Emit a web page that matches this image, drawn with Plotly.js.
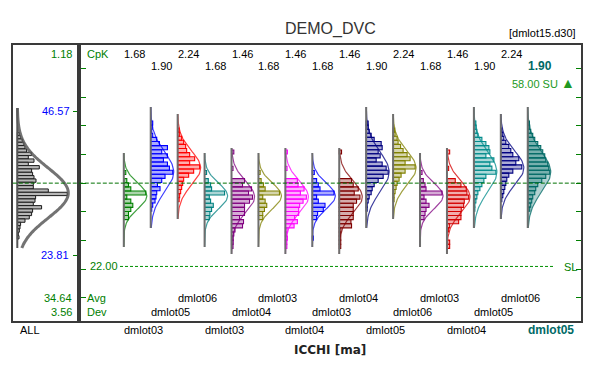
<!DOCTYPE html>
<html><head><meta charset="utf-8">
<script src="https://cdn.plot.ly/plotly-3.0.1.min.js"></script>
<style>html,body{margin:0;padding:0;background:#fff}#chart{width:599px;height:370px}</style>
</head><body><div id="chart"></div>
<script>
// ---------------- data ----------------
const lots = ['dmlot03','dmlot05','dmlot06','dmlot03','dmlot04','dmlot03','dmlot04','dmlot03',
              'dmlot04','dmlot05','dmlot06','dmlot03','dmlot04','dmlot05','dmlot06','dmlot05'];
const cpk = ['1.68','1.90','2.24','1.68','1.46','1.68','1.46','1.68',
             '1.46','1.90','2.24','1.68','1.46','1.90','2.24','1.90'];
// top edge (value) of the highest bin of each lot histogram
const histTop = [37.17,44.99,43.88,37.17,40.41,37.17,40.41,37.17,40.41,44.99,43.88,37.17,40.41,44.99,43.88,44.99];
const binSize = 0.648;
// bin frequencies, from the top bin downwards
const h00 = [2,0,3,4.7,7,22,3,7,9,7,4.7,4.7];
const h01 = [2,1.5,1,2,6,8.7,16.7,11,16.7,12.7,16.7,18.7,22,14.3,11,6.7,9.3,6,5.3,4.3,2,1];
const h02 = [1.5,2,4,6,8,9,12,17,12,22,16,11,6,5,4,3,2,1.5];
const h03 = [2,0,3.7,6,7,20,4.7,6,8.7,7,5.3,4.7];
const h04 = [2.3,0,0,0,1.5,0,0,13,11,20,17,21,18,13,13,13,8,12,11,3.5,2.3,1.7,1.7,1.5];
const h05 = [1.7,0,2.7,5,6.7,21,4.3,6.7,8.3,6,4.3,4.3];
const h06 = [2,0,0,0,1.7,0,0,12,12.7,18.7,15,21,17.7,14.3,13.3,13.3,9.3,12,8.7,1.7,1.3,2,1.5,1.5];
const h07 = [2,0,4.3,6,7.7,21.7,4.3,6,12.7,11,5.3,4.3,0,0,0,0,1];
const h08 = [2.3,0,0,0,0,0,0,12.3,14,19,15,20.7,17.3,14,14,14,14,11.7,12.3,1.7,1.3,1.5,1.5,1.5];
const h09 = [2,2,3,5,8,15,16,12,14,10,16,20,22,17,12,8,6,5,3,2,1,1];
const h10 = [1.5,2,4,5,7.5,10,14,17,12,22,12,8,6,4,3,2,1,1];
const h11 = [2,0,3.3,5,6,22,4,6,9,6,5,4];
const h12 = [2.7,0,0,0,1.7,0,0,8.3,14,19.3,20,21.7,17.3,16.7,14.3,14,14,11.7,2.7,1.7,0,0,2.7,2.7];
const h13 = [2,2.3,3,4,8,12,15,16,12,20,16,18,22,12,10,8,6,4,3,2,1,1];
const h14 = [1,2,3,5,8,10,12,18,15,21,12,8,6,5,4,3,2,1];
const h15 = [1.7,2,3,5,7,10,13,15,17,18,20,21,22,18,14,10,8,7,5,4,3,2];
const counts = [h00,h01,h02,h03,h04,h05,h06,h07,h08,h09,h10,h11,h12,h13,h14,h15];
// normal fit of each lot and data range
const fitMean  = [33.14,36.93,37.56,33.14,32.98,33.14,32.98,33.14,32.98,36.93,37.56,33.14,32.98,36.93,37.56,36.93];
const fitSigma = [2.05,3.16,2.69,2.05,2.53,2.05,2.53,2.05,2.53,3.16,2.69,2.05,2.53,3.16,2.69,3.16];
const dataLo   = [25.07,28.08,29.50,25.07,23.97,25.07,23.97,25.07,23.97,28.08,29.50,25.07,23.97,28.08,29.50,28.08];
const dataHi   = [39.93,47.20,46.10,39.93,40.72,39.93,40.72,39.93,40.72,47.20,46.10,39.93,40.72,47.20,46.10,47.20];
const fitPeak = 23;
// ALL lots
const allTop = 43.21, allBin = 0.527;
const allCounts = [2,3.3,5.3,6.7,7.7,9.3,14.3,11,16.7,11,22,14.3,15.3,16.7,18.7,16,16,31,50,18.3,17.7,16,24.3,15.3,14.3,12,7.7,3.3,2.7,2,1,1.7];
const allMean = 33.61, allSigma = 3.95, allLo = 24.92, allHi = 47.05, allPeak = 51;
const allCpk = '1.18', allAvg = '34.64', allDev = '3.56';
const allUpper = 46.57, allLower = 23.81;
const SL = 22.00, SU = 58.00, centerLine = 35.17;
const yTicks = [17.04,21.57,26.10,30.64,35.17,39.70,44.23,48.77,53.30];

// ---------------- styles ----------------
const colors = ['#008000','#0000ff','#ff0000','#008080','#800080','#808000','#ff00ff','#0000ff',
                '#800000','#000080','#808000','#800080','#d40000','#008b8b','#000080','#006a66'];
const W = 599, H = 370;
const PX = 26.93;                 // px per lot slot on x2
const FONT = 'Liberation Sans, Arial, sans-serif';
const GREEN = '#008000';
function rgba(hex,a){const n=parseInt(hex.slice(1),16);return `rgba(${n>>16&255},${n>>8&255},${n&255},${a})`;}

const traces = [];
// ALL histogram
traces.push({type:'bar', orientation:'h', xaxis:'x', yaxis:'y',
  y: allCounts.map((c,k)=>allTop-(k+0.5)*allBin), x: allCounts, base: 0, width: allBin,
  marker:{color:'#b8b8b8', line:{color:'#1a1a1a', width:1}}, hoverinfo:'skip'});
traces.push({type:'scatter', mode:'lines', xaxis:'x', yaxis:'y', x:[0,0], y:[allLo,allHi],
  line:{color:'#555', width:2}, hoverinfo:'skip'});
{
  const ys=[],xs=[];
  for(let k=0;k<=100;k++){const y=allLo+(allHi-allLo)*k/100;ys.push(y);xs.push(allPeak*Math.exp(-0.5*Math.pow((y-allMean)/allSigma,2)));}
  traces.push({type:'scatter', mode:'lines', xaxis:'x', yaxis:'y', x:xs, y:ys,
    line:{color:'rgba(90,90,90,0.85)', width:3, shape:'spline'}, hoverinfo:'skip'});
}
// lot histograms
counts.forEach((cs,i)=>{
  const ys=[],xs=[];
  cs.forEach((c,k)=>{ if(c>0){ ys.push(histTop[i]-(k+0.5)*binSize); xs.push(c/PX);} });
  traces.push({type:'bar', orientation:'h', xaxis:'x2', yaxis:'y2', y:ys, x:xs,
    base: ys.map(()=>i), width: binSize,
    marker:{color:rgba(colors[i],0.33), line:{color:colors[i], width:1.1}}, hoverinfo:'skip'});
});
counts.forEach((cs,i)=>{
  const ys=[],xs=[];
  for(let k=0;k<=80;k++){const y=dataLo[i]+(dataHi[i]-dataLo[i])*k/80;ys.push(y);
    xs.push(i+fitPeak*Math.exp(-0.5*Math.pow((y-fitMean[i])/fitSigma[i],2))/PX);}
  const tr = {type:'scatter', mode:'lines', xaxis:'x2', yaxis:'y2', x:xs, y:ys,
    line:{color:rgba(colors[i],0.75), width:1.2}, hoverinfo:'skip'};
  if(i===counts.length-1){ tr.x = xs.concat([i,i]); tr.y = ys.concat([dataHi[i],dataLo[i]]);
    tr.fill='toself'; tr.fillcolor=rgba(colors[i],0.3); }
  traces.push(tr);
  traces.push({type:'scatter', mode:'lines', xaxis:'x2', yaxis:'y2', x:[i,i], y:[dataLo[i],dataHi[i]],
    line:{color:'#6e6e6e', width:2}, hoverinfo:'skip'});
});

// ---------------- annotations ----------------
const ann = [];
function A(text,px,py,anchor,color,size,extra){
  ann.push(Object.assign({text:text, xref:'paper', yref:'paper', x:px/W, y:1-py/H, xanchor:anchor, yanchor:'middle',
    showarrow:false, font:{family:FONT, size:size||11, color:color||'#000'}}, extra||{}));
}
A('DEMO_DVC',330,29,'center','#333',16);
A('[dmlot15.d30]',578,33,'right','#000',11);
A('CpK',85,54,'left',GREEN);
A(allCpk,74,54,'right',GREEN);
A(String(allUpper.toFixed(2)),72,111,'right','#0000ff');
A(String(allLower.toFixed(2)),71,255,'right','#0000ff');
A(allAvg,74,298,'right',GREEN);
A(allDev,74,312,'right',GREEN);
A('Avg',85,298,'left',GREEN);
A('Dev',85,312,'left',GREEN);
A('ALL',18,330,'left','#000');
A(SL.toFixed(2),88,266,'left',GREEN);
A('SL',562,267,'left',GREEN);
A(SU.toFixed(2)+' SU <span style="font-size:14px">▲</span>',577,83,'right','#229922');
A('<b>ICCHI [ma]</b>',330,350,'center','#222',12,{font:{family:'DejaVu Sans, sans-serif',size:12,color:'#222'}});
const last = lots.length-1;
cpk.forEach((c,i)=>{
  const py = i%2===0 ? 54 : 66;
  const bold = i===last;
  ann.push({text: bold?'<b>'+c+'</b>':c, xref:'x2', yref:'paper', x:i, y:1-py/H, xanchor:'left', yanchor:'middle',
    xshift:-2, showarrow:false, font:{family:FONT, size:bold?12:11, color:bold?colors[last]:'#000'}});
});
lots.forEach((l,i)=>{
  const py = i%3===2 ? 298 : (i%3===1 ? 312 : 330);
  const bold = i===last;
  ann.push({text: bold?'<b>'+l+'</b>':l, xref:'x2', yref:'paper', x:i, y:1-py/H, xanchor:'left', yanchor:'middle',
    xshift:-2, showarrow:false, font:{family:FONT, size:bold?12:11, color:bold?colors[last]:'#000'}});
});

// ---------------- layout ----------------
const yr = [13.378, 57.002];
const yDom = [49/H, 325/H];
const frame = {showline:true, linecolor:'#3a3a3a', linewidth:2, mirror:true, showgrid:false, zeroline:false};
const layout = {
  width:W, height:H, margin:{l:0,r:0,t:0,b:0}, paper_bgcolor:'#fff', plot_bgcolor:'#fff',
  showlegend:false, barmode:'overlay', hovermode:false,
  xaxis: Object.assign({domain:[12.8/W,77.3/W], range:[-4.5,60], showticklabels:false, ticks:'', fixedrange:true}, frame),
  xaxis2: Object.assign({domain:[80.8/W,580.5/W], range:[-(123.8-80.8)/PX,(580.5-123.8)/PX], showticklabels:false, ticks:'', anchor:'y2'}, frame),
  yaxis: Object.assign({domain:yDom, range:yr, side:'right', anchor:'x', tickmode:'array', tickvals:[allUpper,allLower],
     ticks:'inside', ticklen:4, tickwidth:1, tickcolor:GREEN, showticklabels:false}, frame),
  yaxis2: Object.assign({domain:yDom, range:yr, anchor:'x2', tickmode:'array', tickvals:yTicks,
     ticks:'inside', ticklen:5, tickwidth:1, tickcolor:GREEN, showticklabels:false}, frame, {mirror:'ticks'}),
  shapes:[
    {type:'line', xref:'paper', yref:'y', x0:12.8/W, x1:580.5/W, y0:centerLine, y1:centerLine,
     line:{color:'#007000', width:1, dash:'4px,2px'}},
    {type:'line', xref:'paper', yref:'y', x0:120/W, x1:555/W, y0:SL, y1:SL,
     line:{color:'#009000', width:1, dash:'3px,2px'}}
  ],
  annotations: ann
};
Plotly.newPlot('chart', traces, layout, {staticPlot:true, displayModeBar:false});
</script></body></html>
